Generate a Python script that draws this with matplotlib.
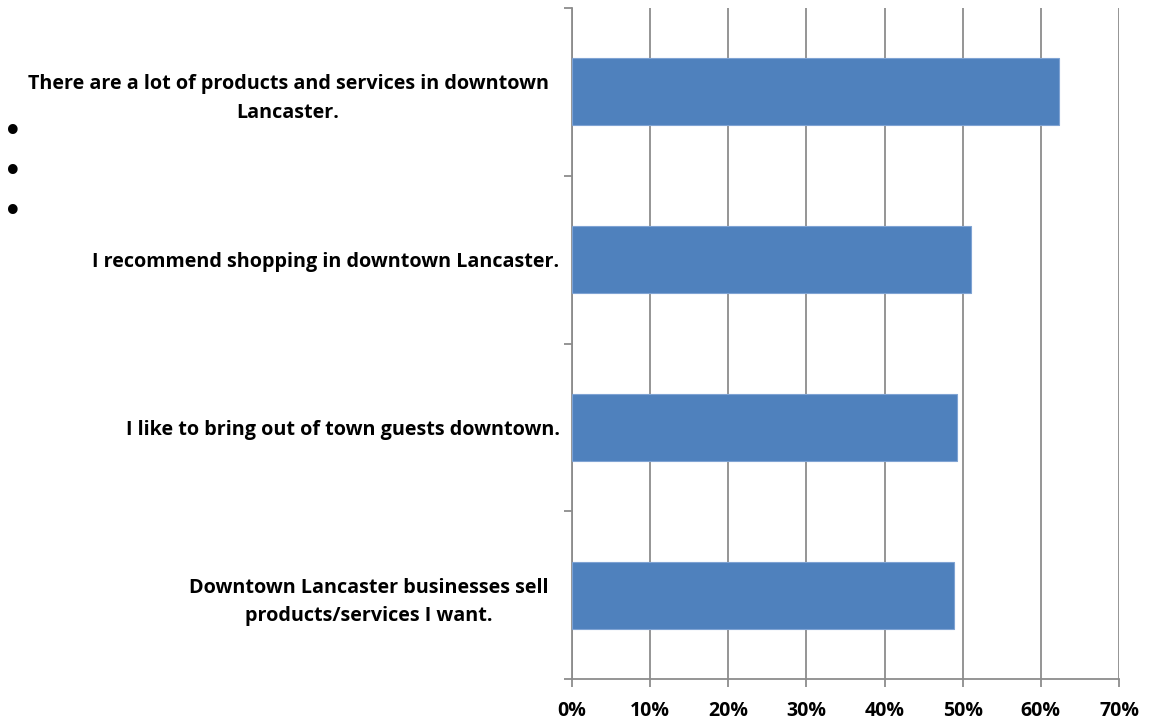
import matplotlib
matplotlib.use("Agg")
import matplotlib.pyplot as plt
import matplotlib.transforms as mtransforms
import numpy as np

categories = [
    "There are a lot of products and services in downtown\nLancaster.",
    "I recommend shopping in downtown Lancaster.",
    "I like to bring out of town guests downtown.",
    "Downtown Lancaster businesses sell\nproducts/services I want.",
]
values = [62.3, 51.1, 49.3, 48.9]
xticks = [0, 10, 20, 30, 40, 50, 60, 70]
xticklabels = ["0%", "10%", "20%", "30%", "40%", "50%", "60%", "70%"]

plt.rcParams['font.family'] = ['Open Sans', 'DejaVu Sans']

W, H = 1153, 724
fig = plt.figure(figsize=(W / 100, H / 100), dpi=100)
ax = fig.add_axes([572 / W, 1 - 679 / H, (1119 - 572) / W, (679 - 8) / H])

y = np.arange(len(categories))
ax.barh(y, values, height=0.4, color="#4F81BD", edgecolor="#7FA3D3", linewidth=0.8, zorder=3)

ax.set_xlim(0, 70)
ax.set_ylim(len(categories) - 0.5, -0.5)

ax.set_xticks(xticks)
ax.set_xticklabels(xticklabels, fontsize=14, fontweight='bold')
ax.xaxis.grid(True, color="#8C8C8C", linewidth=1.3, zorder=0)
ax.tick_params(axis='x', direction='out', length=6, width=1.3, color="#8C8C8C", pad=10)

ax.set_yticks(y)
ax.set_yticklabels(categories, fontsize=14.2, fontweight='bold', multialignment='center',
                   linespacing=1.55)
ax.tick_params(axis='y', which='major', length=0, pad=9)
ax.set_yticks(np.arange(-0.5, len(categories), 1.0), minor=True)
ax.tick_params(axis='y', which='minor', direction='out', length=6, width=1.3, color="#8C8C8C")

for lbl in ax.get_yticklabels():
    if "\n" in lbl.get_text():
        lbl.set_transform(lbl.get_transform() +
                          mtransforms.ScaledTranslation(-0.11, 0, fig.dpi_scale_trans))

for s in ['top', 'right']:
    ax.spines[s].set_visible(False)
for s in ['left', 'bottom']:
    ax.spines[s].set_color("#8C8C8C")
    ax.spines[s].set_linewidth(1.3)

for yy in [133, 173, 213]:
    fig.text(13 / W, 1 - yy / H, "•", fontsize=24, ha='center', va='center', family='DejaVu Sans')

fig.savefig("out.png", dpi=100)
